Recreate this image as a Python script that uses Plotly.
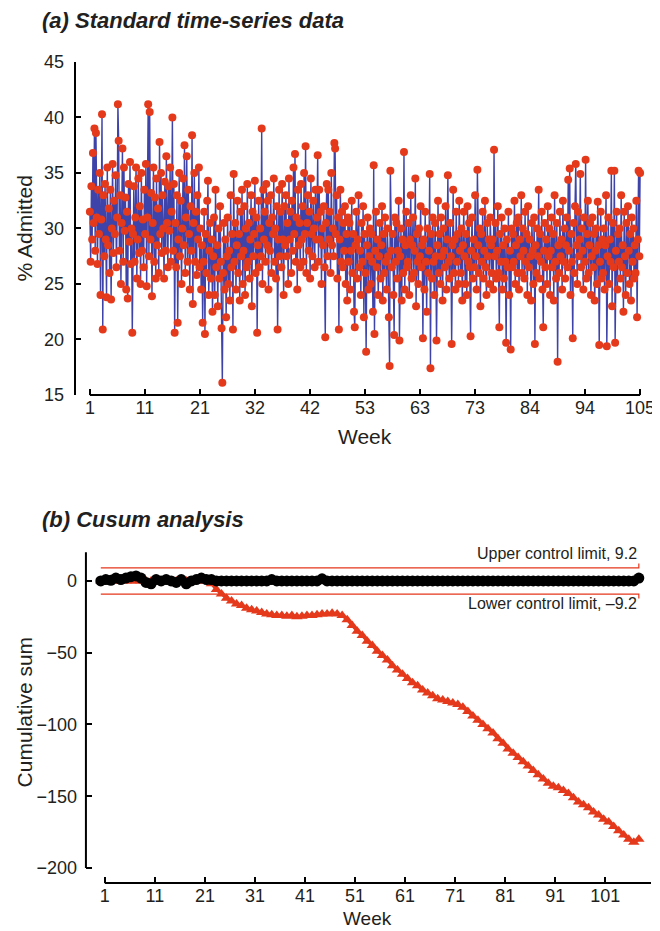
import numpy as np
import plotly.graph_objects as go

# ---------------- data ----------------
# (a) daily % admitted, 7 values per week, weeks 1-104
admitted = [
    31.5, 27.0, 33.8, 29.0, 36.8, 30.5, 39.0,
    28.0, 38.6, 31.0, 26.8, 33.5, 29.5, 35.0,
    24.0, 30.8, 40.3, 20.9, 33.0, 27.5, 34.0,
    29.0, 23.8, 35.5, 28.5, 31.8, 26.0, 33.5,
    23.6, 30.0, 35.8, 27.8, 32.5, 29.5, 34.8,
    26.5, 31.0, 41.2, 37.9, 28.0, 33.0, 25.0,
    30.5, 37.2, 27.0, 35.5, 29.8, 32.8, 24.5,
    31.5, 23.7, 34.0, 28.8, 36.0, 26.8, 30.0,
    20.6, 29.5, 33.8, 27.0, 31.0, 35.5, 25.5,
    29.0, 34.5, 27.8, 32.0, 25.0, 35.0, 28.0,
    30.8, 26.5, 33.5, 29.5, 35.8, 24.8, 31.0,
    41.2, 27.5, 40.5, 29.0, 33.2, 23.9, 30.5,
    35.5, 27.0, 32.8, 25.5, 34.5, 28.5, 31.8,
    26.0, 37.8, 29.5, 35.0, 27.8, 33.0, 30.0,
    25.5, 34.2, 28.0, 36.5, 30.5, 26.5, 33.8,
    29.8, 35.5, 27.0, 31.5, 40.0, 28.0, 34.0,
    20.6, 30.5, 26.5, 33.0, 21.5, 29.0, 35.0,
    27.5, 32.5, 25.0, 30.0, 34.5, 28.5, 37.5,
    26.0, 31.0, 36.5, 27.0, 33.5, 29.5, 24.5,
    32.0, 28.0, 38.4, 23.2, 30.5, 35.0, 27.0,
    31.5, 25.8, 33.0, 29.0, 35.5, 26.5, 30.0,
    24.5, 28.5, 21.5, 27.0, 31.5, 20.5, 29.5,
    26.0, 32.5, 34.3, 24.0, 28.0, 30.5, 25.5,
    29.0, 22.5, 27.5, 31.0, 24.0, 33.5, 26.5,
    28.5, 23.0, 30.0, 25.5, 32.0, 27.0, 21.0,
    16.1, 26.0, 30.5, 24.5, 29.0, 22.0, 27.5,
    31.0, 25.0, 28.0, 23.5, 33.0, 26.5, 29.5,
    20.9, 34.9, 27.0, 30.5, 24.5, 28.5, 32.5,
    26.0, 29.5, 23.5, 31.5, 27.5, 33.5, 25.0,
    28.0, 32.0, 24.0, 30.0, 26.5, 34.0, 27.0,
    30.5, 25.5, 29.0, 33.0, 23.0, 31.5, 27.5,
    29.5, 34.3, 26.0, 31.0, 20.6, 28.5, 32.5,
    26.5, 30.0, 27.5, 39.0, 25.0, 33.5, 29.0,
    31.5, 27.0, 34.0, 28.5, 32.5, 24.5, 30.5,
    28.0, 33.0, 26.0, 31.0, 29.5, 34.5, 27.0,
    30.0, 25.5, 32.0, 20.9, 29.0, 33.5, 27.5,
    31.5, 26.5, 34.0, 29.0, 24.0, 32.0, 28.5,
    33.0, 27.5, 30.5, 25.0, 34.5, 29.0, 31.5,
    26.0, 32.5, 28.0, 35.5, 29.5, 36.7, 27.0,
    31.0, 24.5, 33.5, 28.5, 30.5, 26.5, 34.0,
    29.0, 32.0, 27.0, 35.0, 29.5, 37.4, 26.0,
    30.5, 33.0, 28.0, 31.5, 25.5, 34.5, 29.5,
    27.5, 32.5, 30.0, 26.5, 33.5, 29.0, 31.0,
    36.6, 27.0, 33.5, 29.0, 31.5, 25.0, 30.0,
    28.5, 32.0, 26.5, 20.2, 30.5, 34.0, 27.5,
    33.5, 29.0, 31.5, 26.0, 35.0, 28.5, 30.0,
    27.5, 37.7, 37.2, 29.5, 33.0, 25.5, 31.0,
    20.9, 29.0, 33.5, 27.0, 31.5, 26.5, 30.5,
    28.0, 32.0, 25.0, 29.5, 23.5, 31.0, 27.0,
    30.5, 24.5, 28.0, 32.5, 26.0, 29.5, 22.5,
    21.1, 28.5, 31.5, 25.5, 29.0, 33.0, 26.5,
    28.0, 24.0, 30.5, 27.0, 32.0, 22.0, 29.5,
    26.0, 18.9, 28.5, 31.0, 24.5, 27.5, 30.0,
    25.0, 29.5, 27.0, 22.5, 35.7, 20.5, 28.0,
    31.5, 26.5, 29.0, 24.0, 27.5, 30.5, 25.5,
    28.5, 32.0, 23.5, 29.5, 26.0, 31.0, 27.0,
    24.5, 30.0, 27.5, 22.0, 17.6, 35.2, 28.0,
    26.5, 29.5, 24.0, 20.4, 31.0, 27.0, 30.5,
    25.5, 28.0, 32.5, 19.9, 27.5, 30.0, 23.5,
    29.0, 26.0, 36.9, 24.5, 28.5, 31.5, 26.5,
    27.0, 30.5, 24.0, 29.0, 33.0, 25.5, 28.5,
    31.0, 26.0, 28.0, 34.5, 23.0, 29.5, 27.0,
    25.0, 30.0, 27.5, 32.0, 26.5, 28.5, 20.1,
    29.0, 24.5, 31.5, 27.0, 22.5, 30.0, 26.0,
    28.0, 34.9, 17.4, 29.5, 25.5, 31.0, 27.0,
    24.0, 30.5, 27.5, 19.9, 28.5, 32.5, 26.0,
    29.5, 25.0, 31.0, 27.5, 23.5, 30.0, 28.0,
    26.5, 32.0, 24.5, 29.0, 34.8, 27.0, 25.5,
    30.5, 27.5, 19.6, 28.5, 33.5, 26.0, 29.0,
    24.5, 31.5, 27.0, 29.5, 25.0, 32.5, 28.0,
    26.0, 30.0, 23.5, 28.5, 31.5, 27.5, 25.0,
    29.5, 24.0, 32.0, 27.0, 30.5, 26.5, 20.3,
    28.0, 31.0, 25.5, 29.0, 26.5, 33.0, 27.5,
    24.5, 35.3, 28.5, 26.0, 30.0, 23.0, 29.5,
    27.0, 31.5, 25.5, 28.0, 32.5, 26.5, 24.0,
    30.5, 27.5, 29.0, 25.0, 31.0, 28.5, 26.0,
    29.0, 24.5, 37.1, 27.5, 30.5, 25.5, 28.0,
    32.0, 26.0, 21.1, 29.5, 27.0, 31.0, 24.5,
    28.5, 25.5, 30.0, 27.0, 19.7, 29.0, 26.5,
    31.5, 24.0, 28.0, 19.1, 30.0, 26.5, 29.5,
    27.0, 32.5, 25.0, 28.5, 30.5, 26.0, 31.0,
    24.5, 29.0, 27.5, 33.0, 26.0, 30.0, 28.0,
    25.5, 31.5, 27.0, 29.5, 24.0, 32.0, 26.5,
    29.0, 27.5, 23.5, 30.5, 28.0, 25.0, 31.0,
    19.6, 28.5, 26.0, 30.0, 27.5, 33.5, 25.5,
    29.5, 27.0, 31.5, 24.5, 21.1, 28.0, 30.5,
    26.5, 29.0, 25.0, 32.0, 27.5, 30.0, 24.0,
    28.0, 31.0, 26.5, 29.5, 23.5, 33.0, 27.0,
    25.5, 30.5, 18.0, 28.5, 26.0, 31.5, 27.5,
    29.0, 24.5, 32.5, 27.0, 30.0, 25.5, 28.5,
    31.0, 26.5, 34.4, 28.0, 35.4, 24.0, 29.5,
    27.0, 20.1, 30.5, 26.0, 32.0, 35.8, 28.5,
    25.0, 31.5, 27.5, 29.0, 34.9, 26.5, 30.0,
    28.0, 24.5, 31.0, 27.0, 36.2, 25.5, 29.5,
    32.5, 26.0, 28.5, 30.5, 24.0, 27.5, 31.0,
    26.5, 29.5, 23.5, 28.0, 30.0, 25.0, 32.4,
    28.5, 19.5, 27.0, 31.5, 25.5, 29.0, 26.0,
    30.0, 24.5, 28.5, 33.0, 19.4, 27.5, 31.0,
    25.0, 29.0, 27.0, 35.2, 23.0, 30.5, 26.5,
    35.2, 19.7, 28.0, 31.5, 24.5, 29.5, 27.0,
    30.0, 25.5, 33.0, 26.5, 28.5, 22.5, 31.5,
    27.5, 24.0, 30.5, 26.0, 32.0, 28.0, 25.0,
    29.5, 23.5, 31.0, 27.0, 30.0, 25.5, 28.5,
    26.0, 32.5, 22.0, 29.0, 35.2, 27.5, 35.0,
]

top_tick_weeks = ["1", "11", "21", "32", "42", "53", "63", "73", "84", "94", "105"]
top_yticks = [15, 20, 25, 30, 35, 40, 45]

# (b) cusum series, one value per week
cusum_unreset = [
    0, 0, 0, 0, 0, 0, 0, 0, 0, 0,
    0, 0, 0, 0, 0, 0, 0, 0, 0, 0,
    0, 0, -2, -6, -9, -12, -14, -16, -17, -19,
    -20, -21, -22, -23, -23.5, -24, -24, -24.5, -24, -25,
    -24.5, -24, -24, -23.5, -23, -23, -22.5, -23, -24, -27,
    -31, -35, -38, -42, -45, -49, -52, -55, -59, -62,
    -65, -68, -71, -73, -76, -78, -80, -82, -83, -84,
    -85, -86, -88, -91, -94, -97, -100, -103, -106, -110,
    -113, -117, -120, -123, -126, -129, -132, -135, -138, -141,
    -143, -144, -146, -148, -151, -154, -156, -158, -161, -163,
    -166, -168, -171, -174, -177, -180, -182, -180,
]
cusum_reset = [
    0, 1, 0.5, 2, 1, 2, 3, 3.5, 2, -1,
    -2, 1, 0, 1, 0, -1, 1, -2, 0, 1,
    2, 1, 1, 0, 0, 0, 0, 0, 0, 0,
    0, 0, 0, 0, 1, 0, 0, 0, 0, 0,
    0, 0, 0, 0, 1.5, 0, 0, 0, 0, 0,
    0, 0, 0, 0, 0, 0, 0, 0, 0, 0,
    0, 0, 0, 0, 0, 0, 0, 0, 0, 0,
    0, 0, 0, 0, 0, 0, 0, 0, 0, 0,
    0, 0, 0, 0, 0, 0, 0, 0, 0, 0,
    0, 0, 0, 0, 0, 0, 0, 0, 0, 0,
    0, 0, 0, 0, 0, 0, 0, 2,
]
bottom_tick_weeks = [1, 11, 21, 31, 41, 51, 61, 71, 81, 91, 101]
bottom_yticks = [0, -50, -100, -150, -200]
upper_limit = 9.2
lower_limit = -9.2

# ---------------- positions ----------------
n_top = len(admitted)
x_top = 1 + np.arange(n_top) * 104.0 / (n_top - 1)
top_tickvals = [1 + 10.4 * k for k in range(len(top_tick_weeks))]

n_b = len(cusum_unreset)
x_bot = np.linspace(0.2, 107.7, n_b)

RED = "#e5391c"
BLUE = "#3d43a8"
TXT = "#231f20"
FONT = "Liberation Sans, Arial, Helvetica, sans-serif"

fig = go.Figure()

fig.add_trace(go.Scatter(
    x=x_top, y=admitted, mode="lines+markers", xaxis="x", yaxis="y",
    line=dict(color=BLUE, width=1.4),
    marker=dict(color=RED, size=8, line=dict(width=0)),
    showlegend=False, hoverinfo="skip"))

# control limits
fig.add_trace(go.Scatter(
    x=[x_bot[0], x_bot[-1], x_bot[-1]], y=[upper_limit, upper_limit, upper_limit + 3],
    mode="lines", xaxis="x2", yaxis="y2", line=dict(color=RED, width=1.2),
    showlegend=False, hoverinfo="skip"))
fig.add_trace(go.Scatter(
    x=[x_bot[0], x_bot[-1], x_bot[-1]], y=[lower_limit, lower_limit, lower_limit - 3],
    mode="lines", xaxis="x2", yaxis="y2", line=dict(color=RED, width=1.2),
    showlegend=False, hoverinfo="skip"))

fig.add_trace(go.Scatter(
    x=x_bot, y=cusum_unreset, mode="lines+markers", xaxis="x2", yaxis="y2",
    line=dict(color=RED, width=3),
    marker=dict(symbol="triangle-up", color=RED, size=10, line=dict(width=0)),
    showlegend=False, hoverinfo="skip"))
fig.add_trace(go.Scatter(
    x=x_bot, y=cusum_reset, mode="lines+markers", xaxis="x2", yaxis="y2",
    line=dict(color="black", width=5),
    marker=dict(symbol="circle", color="black", size=11, line=dict(width=0)),
    showlegend=False, hoverinfo="skip"))

axis_common = dict(showgrid=False, zeroline=False, showline=False,
                   ticks="inside", ticklen=6, tickwidth=1.6, tickcolor="black",
                   tickfont=dict(family=FONT, size=18, color=TXT))

# page body has an 8px margin: the figure is sized to fill the rest of the window
fig.update_layout(
    width=652, height=923,
    margin=dict(l=67, r=5, t=54, b=43),
    paper_bgcolor="white", plot_bgcolor="white",
    xaxis=dict(domain=[0, 1], range=[-1.816, 107.06], anchor="y",
               tickvals=top_tickvals, ticktext=top_tick_weeks, **axis_common),
    yaxis=dict(domain=[0.5969, 1], range=[15, 45], anchor="x",
               tickvals=top_yticks, ticklabelstandoff=10, **axis_common),
    xaxis2=dict(domain=[0.01897, 1], range=[-2.77, 110.13], anchor="y2",
                tickvals=bottom_tick_weeks, **axis_common),
    yaxis2=dict(domain=[0.00605, 0.4153], range=[-210.45, 25.1], anchor="x2",
                tickvals=bottom_yticks, ticklabelstandoff=8, **axis_common),
)

line_style = dict(color="black", width=2)
fig.add_shape(type="line", xref="x domain", yref="y", x0=0, x1=0, y0=15, y1=45, line=line_style)
fig.add_shape(type="line", xref="x", yref="y domain", x0=1, x1=105, y0=0, y1=0, line=line_style)
fig.add_shape(type="line", xref="x2 domain", yref="y2", x0=0, x1=0, y0=-200, y1=20, line=line_style)
fig.add_shape(type="line", xref="x2", yref="y2 domain", x0=1, x1=110.13, y0=0, y1=0, line=line_style)

ann = []
ann.append(dict(text="<b><i>(a) Standard time-series data</i></b>", xref="paper", yref="paper",
                x=-0.0603, y=1.0508, xanchor="left", yanchor="middle", showarrow=False,
                font=dict(family=FONT, size=22, color=TXT)))
ann.append(dict(text="<b><i>(b) Cusum analysis</i></b>", xref="paper", yref="paper",
                x=-0.0603, y=0.4467, xanchor="left", yanchor="middle", showarrow=False,
                font=dict(family=FONT, size=22, color=TXT)))
ann.append(dict(text="% Admitted", xref="paper", yref="paper", x=-0.0879, y=0.799,
                xanchor="center", yanchor="middle", textangle=-90, showarrow=False,
                font=dict(family=FONT, size=21, color=TXT)))
ann.append(dict(text="Cumulative sum", xref="paper", yref="paper", x=-0.0879, y=0.213,
                xanchor="center", yanchor="middle", textangle=-90, showarrow=False,
                font=dict(family=FONT, size=21, color=TXT)))
ann.append(dict(text="Week", xref="paper", yref="paper", x=0.503, y=0.547,
                xanchor="center", yanchor="middle", showarrow=False,
                font=dict(family=FONT, size=21, color=TXT)))
ann.append(dict(text="Week", xref="paper", yref="paper", x=0.508, y=-0.0375,
                xanchor="center", yanchor="middle", showarrow=False,
                font=dict(family=FONT, size=19, color=TXT)))
ann.append(dict(text="Upper control limit, 9.2", xref="x2", yref="y2", x=107.8, y=19.5,
                xanchor="right", yanchor="middle", showarrow=False,
                font=dict(family=FONT, size=16, color=TXT)))
ann.append(dict(text="Lower control limit, \u20139.2", xref="x2", yref="y2", x=107.8, y=-16,
                xanchor="right", yanchor="middle", showarrow=False,
                font=dict(family=FONT, size=16, color=TXT)))
fig.update_layout(annotations=ann)

fig.write_html("out.html")
